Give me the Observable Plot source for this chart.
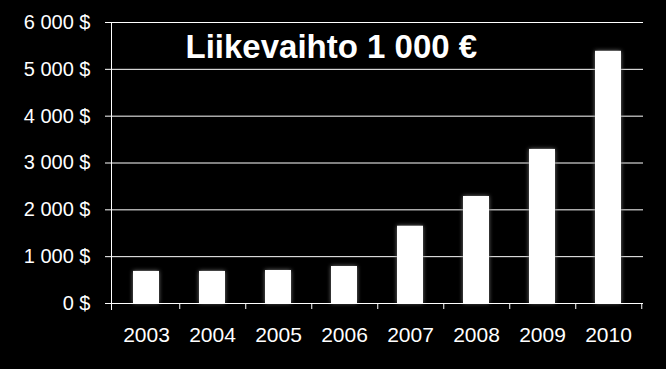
<!DOCTYPE html>
<html>
<head>
<meta charset="utf-8">
<script src="https://cdn.jsdelivr.net/npm/d3@7"></script>
<script src="https://cdn.jsdelivr.net/npm/@observablehq/plot@0.6"></script>
<style>
  html, body { margin: 0; padding: 0; background: #000; }
  #chart { width: 666px; height: 369px; overflow: hidden; }
</style>
</head>
<body>
<div id="chart"></div>
<script>
const years = ["2003", "2004", "2005", "2006", "2007", "2008", "2009", "2010"];
const revenue = [685, 685, 705, 790, 1650, 2285, 3290, 5385];
const yTicks = [0, 1000, 2000, 3000, 4000, 5000, 6000];
const title = "Liikevaihto 1 000 €";

const data = years.map((y, i) => ({year: y, value: revenue[i]}));

const W = 666, H = 369;
const mL = 111, mR = 23, mT = 22, mB = 66;
const halfStep = (W - mL - mR) / years.length / 2;
const font = "'Liberation Sans', Arial, sans-serif";

const fmt = d => d3.format(",")(d).replace(/,/g, "\u00a0") + "\u00a0$";

const chart = Plot.plot({
  width: W,
  height: H,
  marginLeft: mL,
  marginRight: mR,
  marginTop: mT,
  marginBottom: mB,
  style: {background: "#000", color: "#fff", fontFamily: font, fontSize: "20px"},
  x: {domain: years, paddingInner: 0.6, paddingOuter: 0.3, label: null, axis: null},
  y: {domain: [0, 6000], label: null, axis: null},
  marks: [
    Plot.axisY({ticks: yTicks, tickFormat: fmt, tickSize: 6, tickPadding: 15, stroke: "#fff", strokeOpacity: 1, fill: "#fff", fontSize: 20, label: null}),
    Plot.gridY(yTicks, {stroke: "#fff", strokeOpacity: 1, strokeWidth: 1}),
    Plot.barY(data, {x: "year", y: "value", fill: "#fff", imageFilter: "drop-shadow(0 0 2px #777)"}),
    Plot.ruleY([0], {stroke: "#fff", strokeWidth: 1.2}),
    Plot.frame({anchor: "left", stroke: "#fff", insetBottom: -6}),
    Plot.axisX({tickSize: 6, tickFormat: () => "", dx: halfStep, stroke: "#fff", label: null}),
    Plot.axisX({tickSize: 0, tickPadding: 24, fill: "#fff", fontSize: 21, label: null}),
    Plot.text([title], {frameAnchor: "top-left", textAnchor: "start", lineAnchor: "top", dx: 74, dy: 12, fill: "#fff", fontSize: 33, fontWeight: "bold", fontFamily: font})
  ]
});
document.getElementById("chart").appendChild(chart);
</script>
</body>
</html>
